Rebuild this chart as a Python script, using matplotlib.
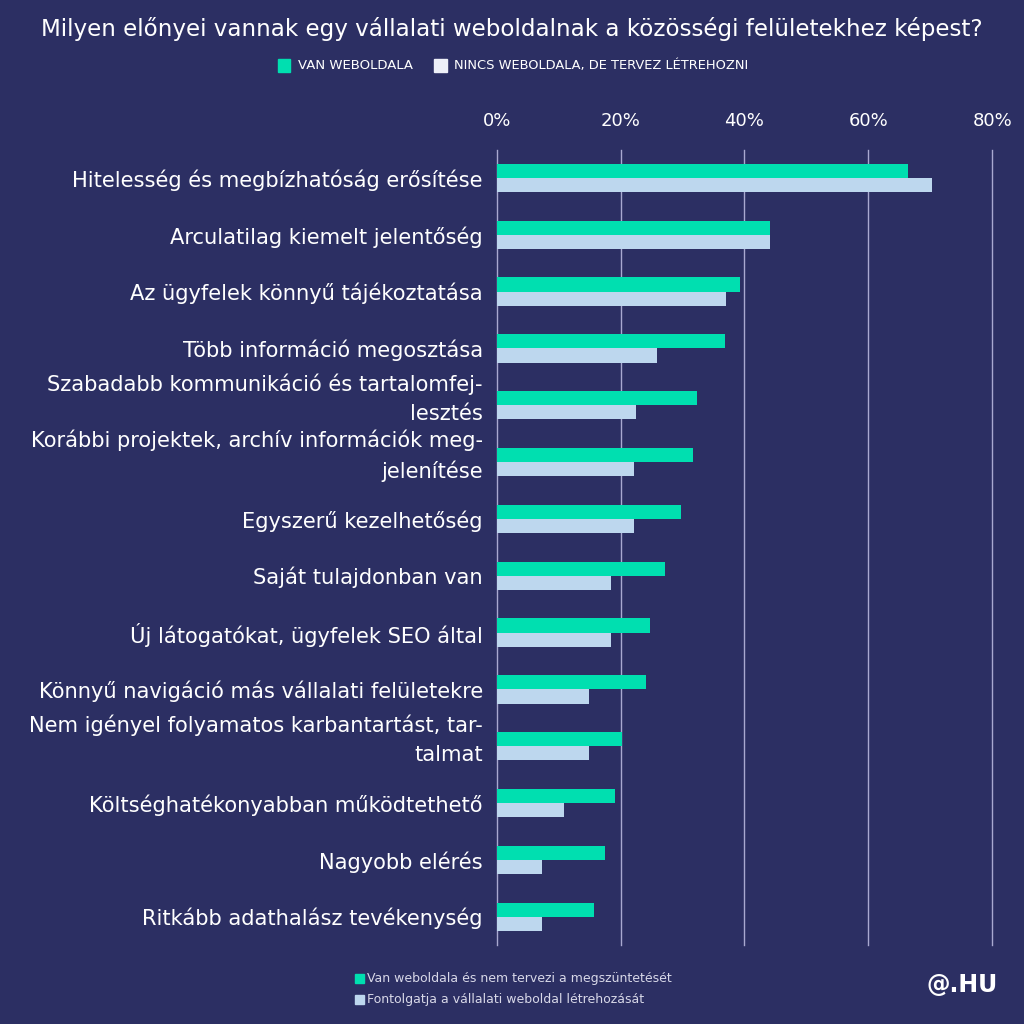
import matplotlib.pyplot as plt
import matplotlib.transforms as mtransforms
import numpy as np

categories = [
    "Hitelesség és megbízhatóság erősítése",
    "Arculatilag kiemelt jelentőség",
    "Az ügyfelek könnyű tájékoztatása",
    "Több információ megosztása",
    "Szabadabb kommunikáció és tartalomfej-\nlesztés",
    "Korábbi projektek, archív információk meg-\njelenítése",
    "Egyszerű kezelhetőség",
    "Saját tulajdonban van",
    "Új látogatókat, ügyfelek SEO által",
    "Könnyű navigáció más vállalati felületekre",
    "Nem igényel folyamatos karbantartást, tar-\ntalmat",
    "Költséghatékonyabban működtethető",
    "Nagyobb elérés",
    "Ritkább adathalász tevékenység",
]
van_weboldala = [66.4, 44.1, 39.3, 36.8, 32.3, 31.7, 29.7, 27.2, 24.7, 24.1, 20.2, 19.1, 17.5, 15.7]
nincs_weboldala = [70.3, 44.1, 37.0, 25.9, 22.5, 22.1, 22.1, 18.4, 18.4, 14.9, 14.9, 10.8, 7.3, 7.3]
x_ticks = [0, 20, 40, 60, 80]

bg = "#2c2f63"
green = "#00dfb0"
light = "#bdd7ee"

fig = plt.figure(figsize=(10.24, 10.24), dpi=100)
fig.patch.set_facecolor(bg)
ax = fig.add_axes([0.485, 0.077, 0.484, 0.777])
ax.set_facecolor(bg)

y = np.arange(len(categories))
h = 0.25
ax.barh(y - h / 2, van_weboldala, height=h, color=green, zorder=3)
ax.barh(y + h / 2, nincs_weboldala, height=h, color=light, zorder=3)

ax.set_xlim(0, 80)
ax.set_ylim(len(categories) - 0.5, -0.5)
ax.set_xticks(x_ticks)
ax.set_xticklabels([f"{t}%" for t in x_ticks], color="white", fontsize=13)
ax.xaxis.tick_top()
ax.tick_params(axis="x", length=0, pad=14)
for t in x_ticks:
    ax.axvline(t, color="#a9a9d0", linewidth=1, zorder=0, clip_on=False)
ax.set_yticks(y)
ax.set_yticklabels(categories, color="white", fontsize=15.1, linespacing=1.55)
ax.tick_params(axis="y", length=0, pad=10)
shift = mtransforms.ScaledTranslation(0, 13 / 100, fig.dpi_scale_trans)
for lbl in ax.get_yticklabels():
    lbl.set_horizontalalignment("right")
    lbl.set_multialignment("right")
    if "\n" in lbl.get_text():
        lbl.set_transform(lbl.get_transform() + shift)
for s in ax.spines.values():
    s.set_visible(False)

fig.text(0.5, 0.972, "Milyen előnyei vannak egy vállalati weboldalnak a közösségi felületekhez képest?",
         color="white", fontsize=16.6, ha="center", va="center")

# top legend
fig.patches.append(plt.Rectangle((0.271, 0.930), 0.0125, 0.0125, color=green, transform=fig.transFigure))
fig.text(0.291, 0.936, "VAN WEBOLDALA", color="white", fontsize=9.5, va="center")
fig.patches.append(plt.Rectangle((0.424, 0.930), 0.0125, 0.0125, color="#eef0f8", transform=fig.transFigure))
fig.text(0.443, 0.936, "NINCS WEBOLDALA, DE TERVEZ LÉTREHOZNI", color="white", fontsize=9.4, va="center")

# bottom legend
fig.patches.append(plt.Rectangle((0.347, 0.040), 0.0085, 0.0085, color=green, transform=fig.transFigure))
fig.text(0.358, 0.0445, "Van weboldala és nem tervezi a megszüntetését", color="#d8d8e8", fontsize=9, va="center")
fig.patches.append(plt.Rectangle((0.347, 0.0195), 0.0085, 0.0085, color=light, transform=fig.transFigure))
fig.text(0.358, 0.024, "Fontolgatja a vállalati weboldal létrehozását", color="#d8d8e8", fontsize=9, va="center")

fig.text(0.940, 0.038, "@.HU", color="white", fontsize=17, fontweight="bold", ha="center", va="center")

fig.savefig("out.png", dpi=100, facecolor=bg)
